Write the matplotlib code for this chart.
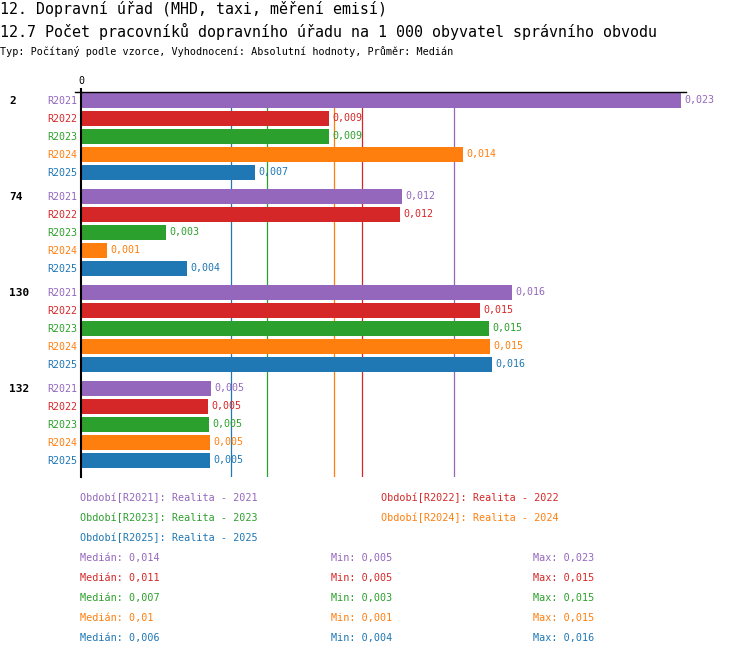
import numpy as np
import matplotlib
matplotlib.use("Agg")
import matplotlib.pyplot as plt
from matplotlib.transforms import blended_transform_factory
from matplotlib.lines import Line2D

# ---- data ----
groups = ["2", "74", "130", "132"]
periods = ["R2021", "R2022", "R2023", "R2024", "R2025"]
period_names = ["Realita - 2021", "Realita - 2022", "Realita - 2023",
                "Realita - 2024", "Realita - 2025"]
colors = ["#9467bd", "#d62728", "#2ca02c", "#ff7f0e", "#1f77b4"]

vals_2 = [0.02268, 0.009374, 0.009374, 0.01444, 0.006577]
vals_74 = [0.01213, 0.01206, 0.003213, 0.000983, 0.004007]
vals_130 = [0.01629, 0.01508, 0.01542, 0.01546, 0.01554]
vals_132 = [0.004914, 0.004801, 0.004838, 0.004876, 0.004876]
values = [vals_2, vals_74, vals_130, vals_132]

medians = [0.01411, 0.010633, 0.007042, 0.009575, 0.005681]

title = "12. Dopravní úřad (MHD, taxi, měření emisí)"
subtitle = "12.7 Počet pracovníků dopravního úřadu na 1 000 obyvatel správního obvodu"
typline = "Typ: Počítaný podle vzorce, Vyhodnocení: Absolutní hodnoty, Průměr: Medián"


def fmt(v):
    s = f"{v:.3f}".rstrip("0").rstrip(".")
    return s.replace(".", ",")


W, H = 750, 656
FONT = "DejaVu Sans Mono"
plt.rcParams["font.family"] = [FONT, "DejaVu Sans"]

fig = plt.figure(figsize=(W / 100, H / 100), dpi=100)


def fx(px):
    return px / W


def fy(py):
    return 1 - py / H


# titles
fig.text(fx(0), fy(9), title, fontsize=10.7, ha="left", va="center", color="black")
fig.text(fx(0), fy(31), subtitle, fontsize=10.8, ha="left", va="center", color="black")
fig.text(fx(0), fy(51.5), typline, fontsize=7.25, ha="left", va="center", color="black")

# axes: x pixel 81..686, y pixel 92..477
ax_left, ax_right, ax_top, ax_bot = 81, 686, 92, 477
ax = fig.add_axes([fx(ax_left), fy(ax_bot), fx(ax_right - ax_left), (ax_bot - ax_top) / H])
xmax = vals_2[0] * (ax_right - ax_left) / 600.0
ax.set_xlim(0, xmax)
ax.set_ylim(ax_bot, ax_top)

for s in ["right", "bottom"]:
    ax.spines[s].set_visible(False)
ax.spines["left"].set_linewidth(1.5)
ax.spines["top"].set_linewidth(1.0)
ax.spines["left"].set_color("black")
ax.spines["top"].set_color("black")

ax.xaxis.tick_top()
ax.set_xticks([0])
ax.set_xticklabels(["0"])
ax.tick_params(axis="x", length=3, width=1.5, pad=1, labelsize=7.2)
ax.set_yticks([])

# extend top line to the left a little
fig.add_artist(Line2D([fx(75), fx(81)], [fy(92), fy(92)], color="black", lw=1.0))

# median lines
for m, c in zip(medians, colors):
    ax.axvline(m, color=c, lw=0.9, zorder=0.5)

grp_tr = blended_transform_factory(fig.transFigure, ax.transData)
bar_h = 15
for g, (gname, gvals) in enumerate(zip(groups, values)):
    for i, (p, v, c) in enumerate(zip(periods, gvals, colors)):
        yc = 100.5 + g * 96 + i * 18
        ax.barh(yc, v, height=bar_h, color=c, zorder=2)
        ax.annotate(fmt(v), xy=(v, yc), xytext=(3, 0), textcoords="offset pixels",
                    ha="left", va="center", fontsize=7.2, color=c,
                    annotation_clip=False, zorder=3)
        ax.annotate(p, xy=(0, yc), xytext=(-4, 0), textcoords="offset pixels",
                    ha="right", va="center", fontsize=7.2, color=c,
                    annotation_clip=False)
    ax.text(fx(9), 100.5 + g * 96, gname, transform=grp_tr, ha="left", va="center",
            fontsize=8, fontweight="bold", color="black")

# legend texts
leg_pos = [(80, 497.5), (381, 497.5), (80, 518), (381, 518), (80, 538)]
for (x, y), p, n, c in zip(leg_pos, periods, period_names, colors):
    fig.text(fx(x), fy(y), f"Období[{p}]: {n}", fontsize=7.25, ha="left",
             va="center", color=c)

# stats
for k, c in enumerate(colors):
    col_vals = [gv[k] for gv in values]
    y = 558.5 + k * 20
    fig.text(fx(80), fy(y), f"Medián: {fmt(medians[k])}", fontsize=7.25,
             ha="left", va="center", color=c)
    fig.text(fx(331), fy(y), f"Min: {fmt(min(col_vals))}", fontsize=7.25,
             ha="left", va="center", color=c)
    fig.text(fx(533), fy(y), f"Max: {fmt(max(col_vals))}", fontsize=7.25,
             ha="left", va="center", color=c)

fig.savefig("out.png", dpi=100)
